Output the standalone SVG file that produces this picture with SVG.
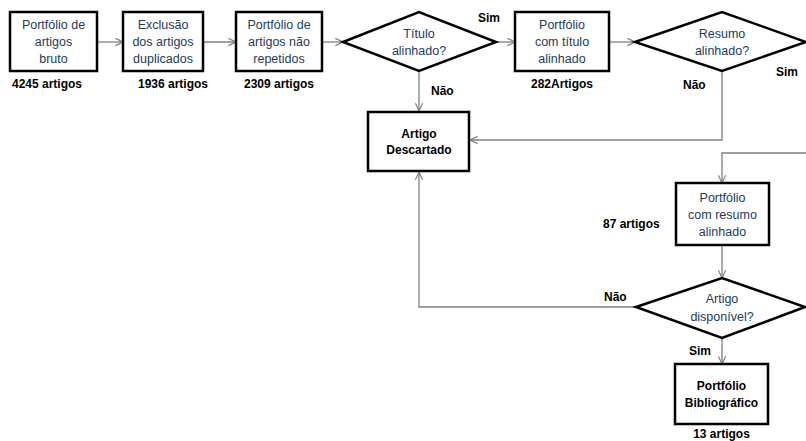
<svg xmlns="http://www.w3.org/2000/svg" width="806" height="441" viewBox="0 0 806 441">
  <style>
    .box { fill: #fff; stroke: #000; stroke-width: 2.5; }
    .t { font-family: "Liberation Sans", Arial, sans-serif; font-size: 12.5px; fill: #243a5c; text-anchor: middle; }
    .b { font-family: "Liberation Sans", Arial, sans-serif; font-size: 12px; font-weight: bold; fill: #000; text-anchor: middle; }
    .lbl { font-family: "Liberation Sans", Arial, sans-serif; font-size: 12px; font-weight: bold; fill: #000; }
    .c { fill: none; stroke: #7f7f7f; stroke-width: 1.3; }
  </style>
  <defs>
    <marker id="arr" viewBox="0 0 10 10" refX="9.5" refY="5" markerWidth="9" markerHeight="9" markerUnits="userSpaceOnUse" orient="auto">
      <path d="M1,1 L9.5,5 L1,9" fill="none" stroke="#7f7f7f" stroke-width="1.3"/>
    </marker>
  </defs>
  <rect width="806" height="441" fill="#fff"/>

  <g id="connectors">
    <line class="c" x1="97" y1="42" x2="123" y2="42" marker-end="url(#arr)"/>
    <line class="c" x1="203" y1="42" x2="236" y2="42" marker-end="url(#arr)"/>
    <line class="c" x1="322" y1="42" x2="343" y2="42" marker-end="url(#arr)"/>
    <line class="c" x1="496" y1="42" x2="515" y2="42" marker-end="url(#arr)"/>
    <line class="c" x1="609" y1="42" x2="635" y2="42" marker-end="url(#arr)"/>
    <line class="c" x1="419" y1="71" x2="419" y2="111" marker-end="url(#arr)"/>
    <polyline class="c" points="722,71 722,140 470,140" marker-end="url(#arr)"/>
    <polyline class="c" points="806,153 722,153 722,183" marker-end="url(#arr)"/>
    <line class="c" x1="722" y1="245" x2="722" y2="278" marker-end="url(#arr)"/>
    <polyline class="c" points="637,307 419,307 419,172" marker-end="url(#arr)"/>
    <line class="c" x1="722" y1="338" x2="722" y2="364" marker-end="url(#arr)"/>
  </g>

  <g id="bruto">
    <rect class="box" x="10" y="12" width="87" height="59"/>
    <text class="t" x="53.5" y="29">Portfólio de</text>
    <text class="t" x="53.5" y="46">artigos</text>
    <text class="t" x="53.5" y="63">bruto</text>
    <text class="lbl" x="12" y="88">4245 artigos</text>
  </g>

  <g id="exclusao">
    <rect class="box" x="123" y="12" width="80" height="59"/>
    <text class="t" x="163" y="29">Exclusão</text>
    <text class="t" x="163" y="46">dos artigos</text>
    <text class="t" x="163" y="63">duplicados</text>
    <text class="lbl" x="138" y="88">1936 artigos</text>
  </g>

  <g id="nao-repetidos">
    <rect class="box" x="236" y="12" width="86" height="59"/>
    <text class="t" x="279" y="29">Portfólio de</text>
    <text class="t" x="279" y="46">artigos não</text>
    <text class="t" x="279" y="63">repetidos</text>
    <text class="lbl" x="244" y="88">2309 artigos</text>
  </g>

  <g id="titulo-alinhado">
    <polygon class="box" points="343,42 419,12 496,42 419,71"/>
    <text class="t" x="419" y="38">Título</text>
    <text class="t" x="419" y="55">alinhado?</text>
    <text class="lbl" x="478" y="22">Sim</text>
    <text class="lbl" x="431" y="95">Não</text>
  </g>

  <g id="com-titulo">
    <rect class="box" x="515" y="12" width="94" height="59"/>
    <text class="t" x="562" y="29">Portfólio</text>
    <text class="t" x="562" y="46">com título</text>
    <text class="t" x="562" y="63">alinhado</text>
    <text class="b" x="562" y="88">282Artigos</text>
  </g>

  <g id="descartado">
    <rect class="box" x="368" y="112" width="101" height="59"/>
    <text class="b" x="419" y="138">Artigo</text>
    <text class="b" x="419" y="154">Descartado</text>
  </g>

  <g id="resumo-alinhado">
    <polygon class="box" points="635,42 722,12 806,42 722,71"/>
    <text class="t" x="722" y="38">Resumo</text>
    <text class="t" x="722" y="55">alinhado?</text>
    <text class="lbl" x="683" y="89">Não</text>
    <text class="lbl" x="776" y="76">Sim</text>
  </g>

  <g id="com-resumo">
    <rect class="box" x="676" y="183" width="93" height="62"/>
    <text class="t" x="722.5" y="202">Portfólio</text>
    <text class="t" x="722.5" y="219">com resumo</text>
    <text class="t" x="722.5" y="236">alinhado</text>
    <text class="lbl" x="603" y="228">87 artigos</text>
  </g>

  <g id="artigo-disponivel">
    <polygon class="box" points="636,307 722,278 805,307 722,338"/>
    <text class="t" x="722" y="303">Artigo</text>
    <text class="t" x="722" y="321">disponível?</text>
    <text class="lbl" x="604" y="301">Não</text>
    <text class="lbl" x="689" y="355">Sim</text>
  </g>

  <g id="bibliografico">
    <rect class="box" x="675" y="364" width="93" height="60"/>
    <text class="b" x="721.5" y="390">Portfólio</text>
    <text class="b" x="721.5" y="407">Bibliográfico</text>
    <text class="b" x="721.5" y="438">13 artigos</text>
  </g>
</svg>
